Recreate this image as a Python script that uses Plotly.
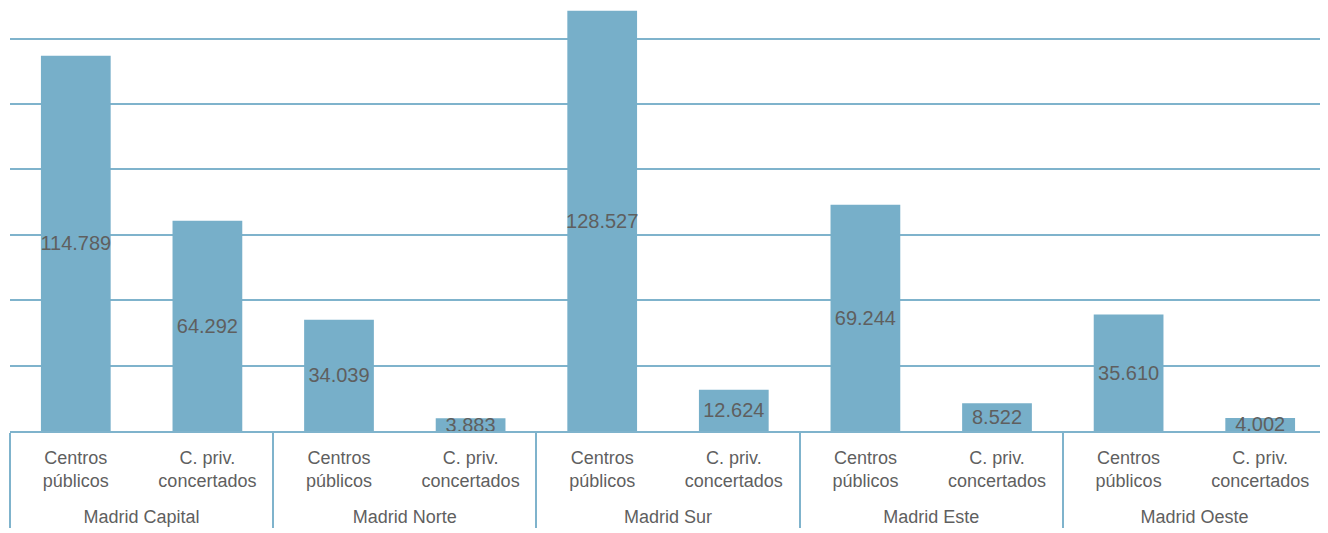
import plotly.graph_objects as go

regions = ["Madrid Capital", "Madrid Norte", "Madrid Sur", "Madrid Este", "Madrid Oeste"]
center_types = ["Centros<br>públicos<br> ", "C. priv.<br>concertados<br> "]
publicos = [114789, 34039, 128527, 69244, 35610]
concertados = [64292, 3883, 12624, 8522, 4002]

xg, xc, vals = [], [], []
for r, p, c in zip(regions, publicos, concertados):
    xg += [r, r]
    xc += center_types
    vals += [p, c]

labels = [f"{v:,}".replace(",", ".") for v in vals]

FONT = "Liberation Sans, Arial, sans-serif"
BLUE = "#77afc9"
LINE = "#7fb3cc"
GRAY = "#5f5f5f"

fig = go.Figure(go.Bar(
    x=[xg, xc], y=vals, marker=dict(color=BLUE, line=dict(width=0)),
    text=labels, textposition="inside", insidetextanchor="middle", textangle=0,
    textfont=dict(family=FONT, size=20, color=GRAY), cliponaxis=False,
    showlegend=False,
))
fig.update_layout(
    width=1320, height=525,
    margin=dict(l=2, r=2, t=0, b=102, autoexpand=False),
    plot_bgcolor="white", paper_bgcolor="white",
    bargap=0.47,
    uniformtext=dict(minsize=20, mode="show"),
    font=dict(family=FONT, size=18, color=GRAY),
    xaxis=dict(type="multicategory", showline=True, linecolor=LINE, linewidth=2,
               showdividers=True, dividercolor=LINE, dividerwidth=2, automargin=False,
               tickfont=dict(family=FONT, size=18, color=GRAY),
               ticks="", ticklabelstandoff=9),
    yaxis=dict(range=[0, 129400], dtick=20000, showgrid=True, gridcolor=LINE, gridwidth=2,
               showticklabels=False, zeroline=False, automargin=False),
    shapes=[dict(type="line", xref="paper", yref="paper", x0=1, x1=1, y0=0, y1=-0.3,
                 line=dict(color=LINE, width=2))],
)
fig.write_html("out.html")
